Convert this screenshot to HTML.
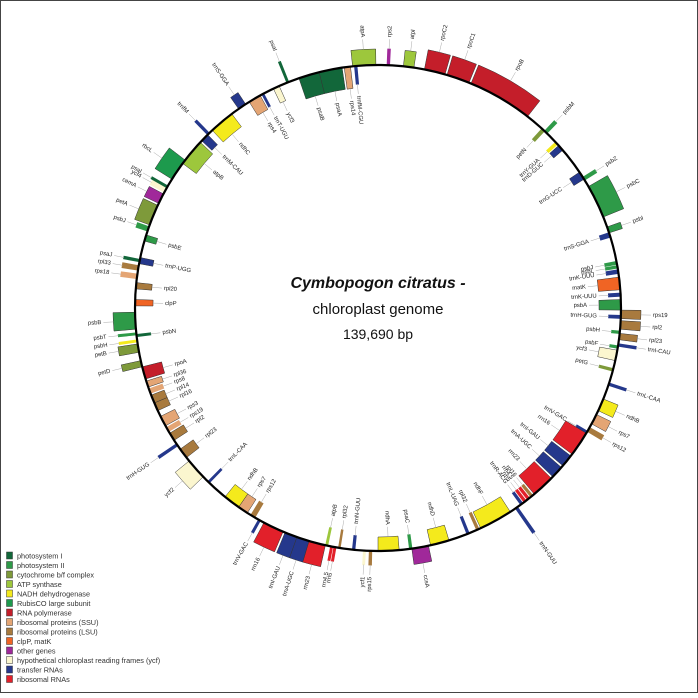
<!DOCTYPE html>
<html><head><meta charset="utf-8"><style>
html,body{margin:0;padding:0;background:#fff;}
body{width:698px;height:693px;overflow:hidden;}
svg text{font-family:"Liberation Sans",sans-serif;}
</style></head><body>
<svg id="s" width="698" height="693" viewBox="0 0 698 693" xmlns="http://www.w3.org/2000/svg">
<rect x="0.5" y="0.5" width="697" height="692" fill="#fff" stroke="#444" stroke-width="1"/>
<g id="genes"></g>
<circle cx="378" cy="308" r="243" fill="none" stroke="#000" stroke-width="2.2"/>
<text x="378" y="288" text-anchor="middle" font-size="16" font-weight="bold" font-style="italic" fill="#111">Cymbopogon citratus -</text>
<text x="378" y="314" text-anchor="middle" font-size="15" fill="#111">chloroplast genome</text>
<text x="378" y="339" text-anchor="middle" font-size="14" fill="#111">139,690 bp</text>
<g font-size="7.3" fill="#333">
<rect x="6.5" y="552" width="6" height="7" fill="#12673a" stroke="#333" stroke-width=".5"/><text x="17" y="558.5">photosystem I</text>
<rect x="6.5" y="561.5" width="6" height="7" fill="#2e9a48" stroke="#333" stroke-width=".5"/><text x="17" y="568">photosystem II</text>
<rect x="6.5" y="571" width="6" height="7" fill="#7e9a3a" stroke="#333" stroke-width=".5"/><text x="17" y="577.5">cytochrome b/f complex</text>
<rect x="6.5" y="580.5" width="6" height="7" fill="#9dc73c" stroke="#333" stroke-width=".5"/><text x="17" y="587">ATP synthase</text>
<rect x="6.5" y="590" width="6" height="7" fill="#f4ea1c" stroke="#333" stroke-width=".5"/><text x="17" y="596.5">NADH dehydrogenase</text>
<rect x="6.5" y="599.5" width="6" height="7" fill="#1d9a4d" stroke="#333" stroke-width=".5"/><text x="17" y="606">RubisCO large subunit</text>
<rect x="6.5" y="609" width="6" height="7" fill="#c41e2a" stroke="#333" stroke-width=".5"/><text x="17" y="615.5">RNA polymerase</text>
<rect x="6.5" y="618.5" width="6" height="7" fill="#e4a574" stroke="#333" stroke-width=".5"/><text x="17" y="625">ribosomal proteins (SSU)</text>
<rect x="6.5" y="628" width="6" height="7" fill="#a87a3e" stroke="#333" stroke-width=".5"/><text x="17" y="634.5">ribosomal proteins (LSU)</text>
<rect x="6.5" y="637.5" width="6" height="7" fill="#f06424" stroke="#333" stroke-width=".5"/><text x="17" y="644">clpP, matK</text>
<rect x="6.5" y="647" width="6" height="7" fill="#a0289a" stroke="#333" stroke-width=".5"/><text x="17" y="653.5">other genes</text>
<rect x="6.5" y="656.5" width="6" height="7" fill="#fbf6cf" stroke="#333" stroke-width=".5"/><text x="17" y="663">hypothetical chloroplast reading frames (ycf)</text>
<rect x="6.5" y="666" width="6" height="7" fill="#25388c" stroke="#333" stroke-width=".5"/><text x="17" y="672.5">transfer RNAs</text>
<rect x="6.5" y="675.5" width="6" height="7" fill="#e2202a" stroke="#333" stroke-width=".5"/><text x="17" y="682">ribosomal RNAs</text>
</g>
</svg>
<script>
const cx=378,cy=308,R=243;
const C={I:'#12673a',II:'#2e9a48',B:'#7e9a3a',A:'#9dc73c',N:'#f4ea1c',R:'#1d9a4d',P:'#c41e2a',S:'#e4a574',L:'#a87a3e',C:'#f06424',O:'#a0289a',Y:'#fbf6cf',T:'#25388c',RR:'#e2202a'};
const G=[
[341,346,'I',-1,22,'psaB'],[346,351.5,'I',-1,22,'psaA'],[352,353.5,'S',-1,22,'rps14'],[354.5,355,'T',-1,18,'trnfM-CGU'],
[354,359.5,'A',1,16,'atpA'],[2.2,2.7,'O',1,16,'rps2'],[6,8.5,'A',1,16,'atpI'],
[11,16,'P',1,20,'rpoC2'],[16.5,22,'P',1,20,'rpoC1'],[22.5,38,'P',1,20,'rpoB'],
[42.5,43.2,'B',-1,14,'petN'],[43.3,44,'II',1,14,'psbM'],[47,47.6,'N',-1,12,'trnY-GUA'],[48,49.5,'T',-1,12,'trnD-GUC'],
[56,58,'T',-1,12,'trnG-UCC'],[57.5,58.2,'II',1,14,'psbZ'],[60,68,'II',1,22,'psbC'],[70.5,72,'II',1,14,'psbI'],[72,73,'T',-1,10,'trnS-GGA'],
[79,79.6,'II',-1,12,'psbJ'],[80,80.5,'II',-1,12,'psbL'],[81,81.8,'T',-1,12,'trnK-UUU'],[82.7,85.7,'C',-1,22,'matK'],[86.5,87.2,'T',-1,12,'trnK-UUU'],
[88,90.5,'II',-1,22,'psbA'],[91.8,92.4,'T',-1,12,'trnH-GUG'],[90.5,92.5,'L',1,20,'rps19'],[93,95,'L',1,20,'rpl2'],[96,97.5,'L',1,18,'rpl23'],[98.5,99,'T',1,18,'trnI-CAU'],
[95.5,96,'II',-1,8,'psbH'],[100,102.5,'Y',-1,18,'ycf3'],[99,99.5,'II',-1,8,'psbF'],[104.5,105,'B',-1,14,'petG'],[108,108.5,'T',1,18,'trnL-CAA'],
[112,115,'N',1,16,'ndhB'],[116,118.5,'S',1,16,'rps7'],[119.5,120.5,'L',1,16,'rps12'],
[120.5,121,'T',-1,12,'trnV-GAC'],[121,127,'RR',-1,24,'rrn16'],[127.5,130.5,'T',-1,24,'trnI-GAU'],[131,134,'T',-1,24,'trnA-UGC'],[134.5,140,'RR',-1,24,'rrn23'],
[140.5,141,'L',-1,14,'rpl16'],[141.5,142,'RR',-1,14,'rrn4.5'],[142.5,143,'RR',-1,14,'rrn5'],[143.5,144,'T',-1,14,'trnR-ACG'],[145,145.5,'T',1,30,'trnN-GUU'],
[147,155,'N',-1,18,'ndhF'],[155.5,156,'L',-1,18,'rpl32'],[158,158.5,'T',-1,18,'trnL-UAG'],[163,167.5,'N',-1,16,'ndhD'],[168,172,'O',1,16,'ccsA'],
[172,172.5,'II',-1,14,'psaC'],[175,180,'N',-1,14,'ndhA'],[181.5,182,'L',1,14,'rps15'],[183,183.4,'Y',1,14,'ycf1'],[185.5,186,'T',-1,14,'trnN-GUU'],
[189,189.3,'L',-1,18,'rpl32'],[190,190.4,'RR',1,14,'rrn5'],[190.8,191.2,'RR',1,14,'rrn4.5'],[192,192.4,'A',-1,18,'atpB'],
[192.5,196.5,'RR',1,22,'rrn23'],[196.5,199.5,'T',1,22,'trnA-UGC'],[199.5,202.5,'T',1,22,'trnI-GAU'],[203,208,'RR',1,22,'rrn16'],[209,209.4,'T',1,14,'trnV-GAC'],
[210.5,211.5,'L',-1,16,'rps12'],[212.5,215,'S',-1,16,'rps7'],[215,219,'N',-1,16,'ndhB'],[224,224.4,'T',-1,18,'trnL-CAA'],[226,231,'Y',1,18,'ycf2'],
[232,234.5,'L',-1,16,'rpl23'],[235.5,236,'T',1,22,'trnH-GUG'],[237,239,'L',-1,16,'rpl2'],[239.5,240.5,'S',-1,14,'rps19'],[241,243.5,'S',-1,16,'rps3'],
[245,247,'L',-1,14,'rpl16'],[247,249,'L',-1,14,'rpl14'],[249.5,250.5,'S',-1,14,'rps8'],[251,252.5,'S',-1,16,'rpl36'],[253,256,'P',-1,20,'rpoA'],
[256,257.5,'B',1,20,'petD'],[259.5,261.5,'B',1,20,'petB'],[262,262.4,'N',1,18,'psbH'],[263.3,263.7,'I',-1,14,'psbN'],[263.7,264.1,'II',1,18,'psbT'],
[265,269,'II',1,22,'psbB'],[270.5,272,'C',-1,18,'clpP'],[274.5,276,'L',-1,16,'rpl20'],[277,278,'S',1,16,'rps18'],[279,280,'L',1,16,'rpl33'],[281,281.5,'I',1,16,'psaJ'],
[280.5,282,'T',-1,14,'trnP-UGG'],[286,287.5,'II',-1,12,'psbE'],[288.5,289.5,'II',1,12,'psbJ'],[290,295,'B',1,16,'petA'],[295.5,298,'O',1,16,'cemA'],
[298.5,299.5,'Y',1,16,'ycf4'],[299.7,300.1,'I',1,18,'psaI'],[302,307.5,'R',1,20,'rbcL'],[306.5,313,'A',-1,17,'atpB'],[313.5,315.5,'T',-1,14,'trnM-CAU'],
[315.5,316,'T',1,18,'trnfM'],[317,323,'N',-1,16,'ndhC'],[325,327,'T',1,14,'trnS-GGA'],[328,331,'S',-1,16,'rps4'],[331.5,331.9,'T',-1,14,'trnT-UGU'],
[334.5,336,'Y',-1,16,'ycf3'],[338,338.4,'I',1,22,'psaI']
];
function pt(r,a){const t=a*Math.PI/180;return [cx+r*Math.sin(t),cy-r*Math.cos(t)];}
let out='';
for(const g of G){
 let [a1,a2,k,side,h,lab]=g; if(a2-a1<0) a2+=360;
 const r1=R, r2=R+side*h;
 const p1=pt(r1,a1),p2=pt(r1,a2),p3=pt(r2,a2),p4=pt(r2,a1);
 const large=(a2-a1)>180?1:0;
 const d=`M${p1[0].toFixed(1)},${p1[1].toFixed(1)} A${r1},${r1} 0 ${large} 1 ${p2[0].toFixed(1)},${p2[1].toFixed(1)} L${p3[0].toFixed(1)},${p3[1].toFixed(1)} A${r2},${r2} 0 ${large} 0 ${p4[0].toFixed(1)},${p4[1].toFixed(1)} Z`;
 const thin=(a2-a1)<1.2;
 out+=`<path d="${d}" fill="${C[k]}" stroke="${thin?C[k]:'#333'}" stroke-width="${thin?1.2:0.5}"/>`;
 if(lab){
  const am=(a1+a2)/2, lr=side>0?R+h+12:R-h-12;
  const q1=pt(side>0?R+h:R-h,am), q2=pt(side>0?lr-2:lr+2,am);
  out+=`<line x1="${q1[0].toFixed(1)}" y1="${q1[1].toFixed(1)}" x2="${q2[0].toFixed(1)}" y2="${q2[1].toFixed(1)}" stroke="#aaa" stroke-width="0.5"/>`;
  const p=pt(lr,am); const norm=((am%360)+360)%360; const right=norm<180;
  const rot=right?norm-90:norm+90;
  let anchor=right?'start':'end'; if(side<0) anchor=right?'end':'start';
  out+=`<text x="${p[0].toFixed(1)}" y="${p[1].toFixed(1)}" font-size="5.9" fill="#222" text-anchor="${anchor}" dominant-baseline="middle" transform="rotate(${rot.toFixed(1)} ${p[0].toFixed(1)} ${p[1].toFixed(1)})">${lab}</text>`;
 }
}
document.getElementById('genes').innerHTML=out;
</script>
</body></html>
